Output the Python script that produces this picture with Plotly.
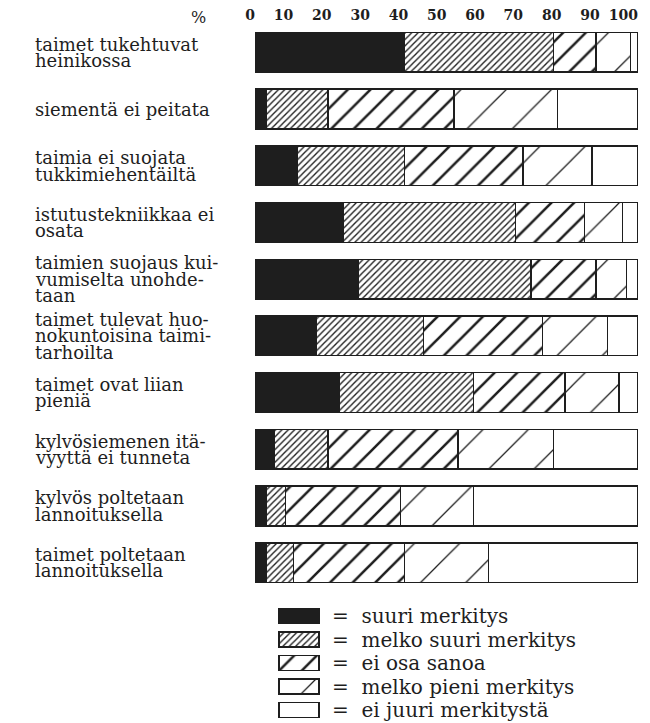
import plotly.graph_objects as go

# Syyt taimien ja kylvöjen epäonnistumiseen, vastausten jakauma (%)
labels = [
    "taimet tukehtuvat\nheinikossa",
    "siementä ei peitata",
    "taimia ei suojata\ntukkimiehentäiltä",
    "istutustekniikkaa ei\nosata",
    "taimien suojaus kui-\nvumiselta unohde-\ntaan",
    "taimet tulevat huo-\nnokuntoisina taimi-\ntarhoilta",
    "taimet ovat liian\npieniä",
    "kylvösiemenen itä-\nvyyttä ei tunneta",
    "kylvös poltetaan\nlannoituksella",
    "taimet poltetaan\nlannoituksella",
]

series_names = [
    "suuri merkitys",
    "melko suuri merkitys",
    "ei osa sanoa",
    "melko pieni merkitys",
    "ei juuri merkitystä",
]

suuri = [39, 3, 11, 23, 27, 16, 22, 5, 3, 3]
melko_suuri = [39, 16, 28, 45, 45, 28, 35, 14, 5, 7]
ei_osaa = [11, 33, 31, 18, 17, 31, 24, 34, 30, 29]
melko_pieni = [9, 27, 18, 10, 8, 17, 14, 25, 19, 22]
ei_juuri = [2, 21, 12, 4, 3, 8, 5, 22, 43, 39]

values = [suuri, melko_suuri, ei_osaa, melko_pieni, ei_juuri]
tick_values = list(range(0, 101, 10))

INK = "#1e1e1e"
FONT = "DejaVu Serif"

# fill styles: solid, dense hatch, coarse thick hatch, sparse thin hatch, empty
styles = [
    dict(color=INK, pattern=None),
    dict(color="white", pattern=dict(shape="/", size=4.5, solidity=0.3, fgcolor=INK, bgcolor="white", fillmode="replace")),
    dict(color="white", pattern=dict(shape="/", size=16, solidity=0.16, fgcolor=INK, bgcolor="white", fillmode="replace")),
    dict(color="white", pattern=dict(shape="/", size=32, solidity=0.04, fgcolor=INK, bgcolor="white", fillmode="replace")),
    dict(color="white", pattern=None),
]

# figure geometry in pixels (the page body adds an 8 px offset)
W, H = 634, 715
left, right = 247, 4
top = 16
plot_bottom = 583

paper_h = H - top
plot_w = W - left - right
main_domain = [(H - plot_bottom) / paper_h, 1]

# legend block
leg_first = 608      # centre of first legend row
leg_pitch = 23.5
leg_top = leg_first - leg_pitch / 2
legend_domain = [0, (H - leg_top) / paper_h]
leg_rows_visible = (H - leg_top) / leg_pitch
sw_left, sw_len = 271, 40
x2_start = -(sw_left - left) / sw_len
x2_end = x2_start + plot_w / sw_len

fig = go.Figure()

for name, vals, st in zip(series_names, values, styles):
    marker = dict(color=st["color"], line=dict(color=INK, width=1.5))
    if st["pattern"]:
        marker["pattern"] = st["pattern"]
    fig.add_trace(go.Bar(
        y=labels, x=vals, orientation="h", name=name,
        marker=marker, width=0.7, showlegend=False,
        hoverinfo="skip",
    ))
    # legend swatch
    fig.add_trace(go.Bar(
        y=[name], x=[1], orientation="h", name=name,
        marker=marker, width=0.62, showlegend=False,
        xaxis="x2", yaxis="y2", hoverinfo="skip",
    ))

annotations = []
line_pitch = 16.5
for lab in labels:
    lines = lab.split("\n")
    n = len(lines)
    for i, ln in enumerate(lines):
        annotations.append(dict(
            x=(25 - left) / plot_w, xref="paper",
            y=lab, yref="y",
            text=ln, showarrow=False, xanchor="left", yanchor="middle",
            yshift=-(i - (n - 1) / 2) * line_pitch,
            font=dict(family=FONT, size=18, color=INK),
        ))

for name in series_names:
    annotations.append(dict(
        x=(322 - sw_left) / sw_len, xref="x2", y=name, yref="y2",
        text="=  " + name, showarrow=False, xanchor="left", yanchor="middle",
        font=dict(family=FONT, size=20, color=INK),
    ))

annotations.append(dict(
    x=(190 - left) / plot_w, xref="paper",
    y=1 + 7 / paper_h, yref="paper",
    text="%", showarrow=False, xanchor="center", yanchor="middle",
    font=dict(family=FONT, size=16, color=INK),
))

fig.update_layout(
    barmode="stack",
    width=W, height=H,
    margin=dict(l=left, r=right, t=top, b=0),
    paper_bgcolor="white", plot_bgcolor="white",
    xaxis=dict(
        range=[0, 100], side="top", tickvals=tick_values,
        ticklabelposition="outside left",
        showgrid=False, zeroline=False, showline=False, ticks="",
        tickfont=dict(family=FONT, size=14, color=INK, weight="bold"),
        automargin=False, fixedrange=True,
    ),
    yaxis=dict(
        domain=main_domain, autorange="reversed",
        showticklabels=False, showgrid=False, zeroline=False, ticks="",
    ),
    xaxis2=dict(
        domain=[0, 1], anchor="y2", range=[x2_start, x2_end],
        visible=False,
    ),
    yaxis2=dict(
        domain=legend_domain, anchor="x2",
        range=[leg_rows_visible - 0.5, -0.5],
        visible=False,
    ),
    annotations=annotations,
)

fig.write_html("out.html")
